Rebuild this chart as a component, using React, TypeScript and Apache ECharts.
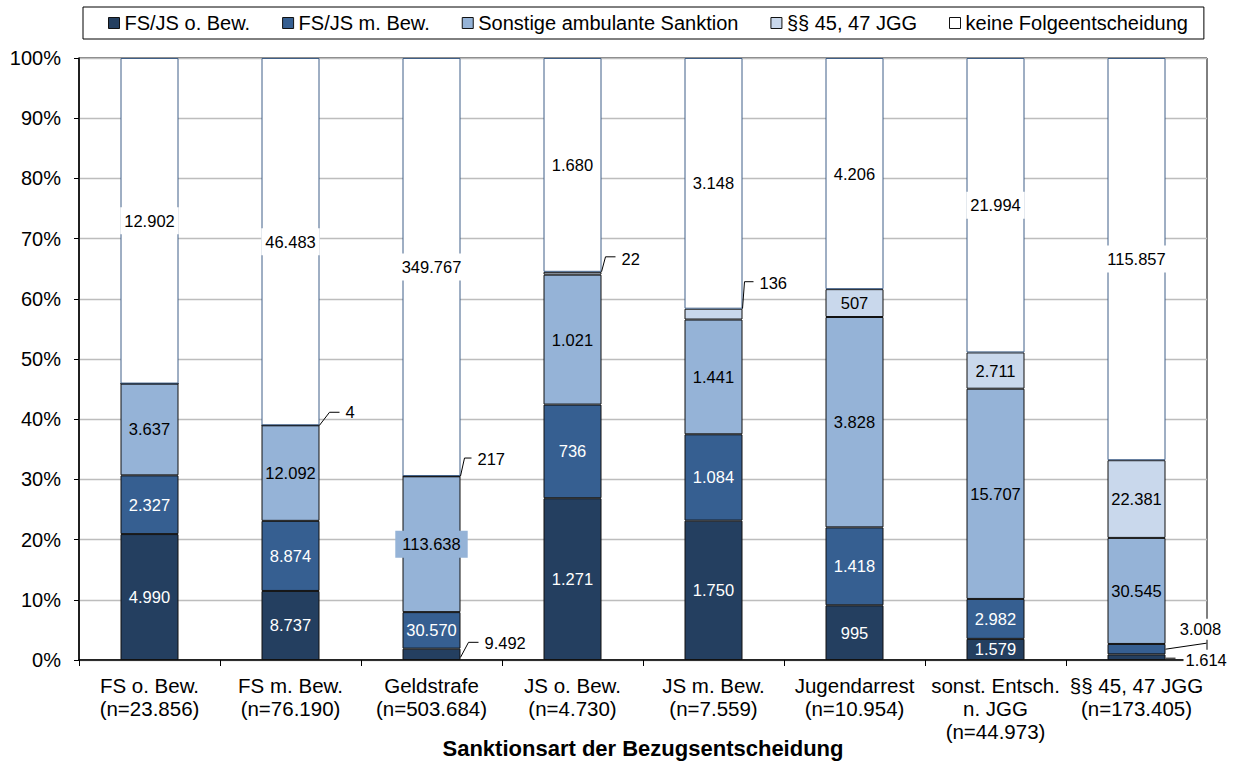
import React, { useEffect, useRef } from "react";
import * as echarts from "echarts";

const categoryNames = [
  "FS o. Bew.",
  "FS m. Bew.",
  "Geldstrafe",
  "JS o. Bew.",
  "JS m. Bew.",
  "Jugendarrest",
  "sonst. Entsch.\nn. JGG",
  "§§ 45, 47 JGG",
];
const seriesNames = [
  "FS/JS o. Bew.",
  "FS/JS m. Bew.",
  "Sonstige ambulante Sanktion",
  "§§ 45, 47 JGG",
  "keine Folgeentscheidung",
];
// absolute counts per category (bottom to top)
const fsjsOhneBew = [4990, 8737, 9492, 1271, 1750, 995, 1579, 1614];
const fsjsMitBew = [2327, 8874, 30570, 736, 1084, 1418, 2982, 3008];
const sonstigeAmbulant = [3637, 12092, 113638, 1021, 1441, 3828, 15707, 30545];
const jgg4547 = [0, 4, 217, 22, 136, 507, 2711, 22381];
const keineFolge = [12902, 46483, 349767, 1680, 3148, 4206, 21994, 115857];
const countsBySeries = [fsjsOhneBew, fsjsMitBew, sonstigeAmbulant, jgg4547, keineFolge];

const seriesColors = ["#243F60", "#365F91", "#95B3D7", "#C9D8EC", "#FFFFFF"];
const labelColors = ["#FFFFFF", "#FFFFFF", "#000000", "#000000", "#000000"];

// labels drawn outside the bar with a leader line
type Callout = {
  cat: number;
  ser: number;
  at: "top" | "mid";
  pts: number[][];
  tx: number;
  ty: number;
  align: string;
  bg?: boolean;
};
const callouts: Callout[] = [
  { cat: 1, ser: 3, at: "top", pts: [[0, 0], [10, -13], [20, -13]], tx: 26, ty: -13, align: "left" },
  { cat: 2, ser: 3, at: "top", pts: [[0, 0], [4, -18], [11, -18]], tx: 17, ty: -17, align: "left" },
  { cat: 2, ser: 0, at: "mid", pts: [[0, 3], [8, -12], [18, -12]], tx: 24, ty: -11, align: "left" },
  { cat: 3, ser: 3, at: "top", pts: [[0, 0], [4, -15], [14, -15]], tx: 20, ty: -13, align: "left" },
  { cat: 4, ser: 3, at: "top", pts: [[0, 0], [2, -27], [11, -27]], tx: 17, ty: -26, align: "left" },
  { cat: 7, ser: 1, at: "mid", pts: [[0, 0], [41, -6]], tx: 35, ty: -20, align: "center", bg: true },
  { cat: 7, ser: 0, at: "mid", pts: [[0, 1], [10, 1]], tx: 18, ty: 3, align: "left", bg: true },
];

const BAR_W = 58;
const FONT = '"Liberation Sans", Arial, sans-serif';
const LABEL_SIZE = 16.5;

const fmt = (n: number) => String(n).replace(/\B(?=(\d{3})+(?!\d))/g, ".");

export default function App() {
  const ref = useRef<HTMLDivElement>(null);
  useEffect(() => {
    if (!ref.current) return;
    const chart = echarts.init(ref.current, null, { renderer: "svg" });

    const totals = categoryNames.map((_, i) =>
      countsBySeries.reduce((s, arr) => s + arr[i], 0)
    );
    const pct = countsBySeries.map((arr) => arr.map((v, i) => (v / totals[i]) * 100));
    const xLabels = categoryNames.map((c, i) => `${c}\n(n=${fmt(totals[i])})`);

    const isCallout = (cat: number, ser: number) =>
      callouts.some((c) => c.cat === cat && c.ser === ser);

    const anchorPct = (c: Callout) => {
      let below = 0;
      for (let s = 0; s < c.ser; s++) below += pct[s][c.cat];
      return c.at === "top" ? below + pct[c.ser][c.cat] : below + pct[c.ser][c.cat] / 2;
    };

    const barSeries = seriesNames.map((name, si) => ({
      name,
      type: "bar",
      stack: "total",
      barWidth: BAR_W,
      itemStyle: {
        color: seriesColors[si],
        borderColor: si === 4 ? "#3F5F88" : "#111111",
        borderWidth: 1,
      },
      label: {
        show: true,
        position: "inside",
        color: labelColors[si],
        fontSize: LABEL_SIZE,
        fontFamily: FONT,
        backgroundColor: si === 4 ? "#FFFFFF" : "transparent",
        padding: si === 4 ? [5, 4] : 0,
        formatter: (p: any) => fmt(countsBySeries[si][p.dataIndex]),
      },
      data: pct[si].map((v, ci) => {
        const hide = countsBySeries[si][ci] === 0 || isCallout(ci, si);
        if (hide) return { value: v, label: { show: false } };
        // the wide label of the Geldstrafe bar keeps its own filled box
        if (si === 2 && ci === 2)
          return { value: v, label: { backgroundColor: seriesColors[2], padding: [5, 7] } };
        return { value: v };
      }),
    }));

    const calloutSeries = {
      name: "callouts",
      type: "custom",
      z: 5,
      silent: true,
      encode: { x: 0, y: 1 },
      data: callouts.map((c) => [c.cat, anchorPct(c)]),
      renderItem: (params: any, api: any) => {
        const c = callouts[params.dataIndex];
        const p = api.coord([api.value(0), api.value(1)]);
        const ax = p[0] + BAR_W / 2;
        const ay = p[1];
        const text = fmt(countsBySeries[c.ser][c.cat]);
        return {
          type: "group",
          children: [
            {
              type: "polyline",
              shape: { points: c.pts.map(([dx, dy]) => [ax + dx, ay + dy]) },
              style: { stroke: "#000", fill: "none", lineWidth: 1 },
            },
            {
              type: "text",
              x: ax + c.tx,
              y: ay + c.ty,
              style: {
                text,
                fill: "#000",
                font: `${LABEL_SIZE}px ${FONT}`,
                align: c.align,
                verticalAlign: "middle",
                textAlign: c.align,
                textVerticalAlign: "middle",
                backgroundColor: c.bg ? "#fff" : undefined,
                padding: c.bg ? [2, 2] : 0,
              },
            },
          ],
        };
      },
    };

    chart.setOption({
      animation: false,
      backgroundColor: "#fff",
      textStyle: { fontFamily: FONT },
      legend: {
        data: seriesNames,
        left: 83,
        top: 7,
        padding: [6, 16, 6, 25],
        itemGap: 32,
        itemWidth: 11,
        itemHeight: 11,
        icon: "rect",
        borderColor: "#000",
        borderWidth: 1,
        textStyle: { fontSize: 20, color: "#000", fontFamily: FONT },
        itemStyle: { borderColor: "#111", borderWidth: 1 },
      },
      grid: {
        left: 79,
        right: 26,
        top: 58,
        bottom: 102,
        show: true,
        borderColor: "#000",
        borderWidth: 1,
        outerBoundsMode: "none",
        containLabel: false,
      },
      xAxis: {
        type: "category",
        data: xLabels,
        name: "Sanktionsart der Bezugsentscheidung",
        nameLocation: "middle",
        nameGap: 77,
        nameMoveOverlap: false,
        nameTextStyle: {
          fontSize: 22,
          fontWeight: "bold",
          color: "#000",
          fontFamily: FONT,
          verticalAlign: "top",
        },
        axisLine: { lineStyle: { color: "#000", width: 1.5 } },
        axisTick: { show: true, length: 6, lineStyle: { color: "#000" } },
        axisLabel: {
          fontSize: 20.5,
          lineHeight: 23,
          color: "#000",
          margin: 14,
          fontFamily: FONT,
          interval: 0,
        },
      },
      yAxis: {
        type: "value",
        min: 0,
        max: 100,
        interval: 10,
        axisLine: { show: true, lineStyle: { color: "#000", width: 1.5 } },
        axisTick: { show: true, length: 5, lineStyle: { color: "#000" } },
        axisLabel: {
          formatter: "{value}%",
          fontSize: 20,
          color: "#000",
          margin: 18,
          fontFamily: FONT,
        },
        splitLine: { lineStyle: { color: "#BDBDBD", width: 1.3 } },
      },
      series: [...barSeries, calloutSeries],
    });

    return () => chart.dispose();
  }, []);

  return (
    <div
      ref={ref}
      style={{ position: "fixed", left: 0, top: 0, width: 1233, height: 762 }}
    />
  );
}
